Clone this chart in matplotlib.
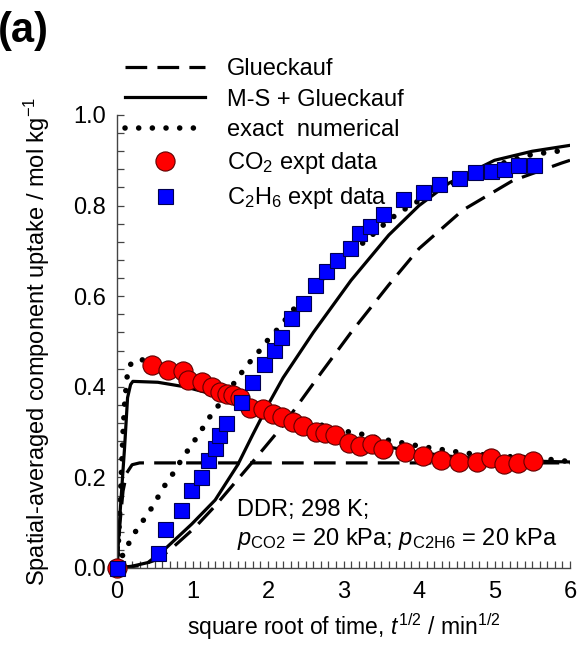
import matplotlib
matplotlib.use("Agg")
import matplotlib.pyplot as plt
from matplotlib.lines import Line2D
from matplotlib.ticker import MultipleLocator, FormatStrFormatter

plt.rcParams['font.family'] = ['Liberation Sans', 'DejaVu Sans']
plt.rcParams['mathtext.fontset'] = 'custom'
plt.rcParams['mathtext.rm'] = 'Liberation Sans'
plt.rcParams['mathtext.it'] = 'Liberation Sans:italic'
plt.rcParams['mathtext.bf'] = 'Liberation Sans:bold'

# ---- data ----
co2_x = [0, 0.46, 0.68, 0.87, 0.94, 1.13, 1.26, 1.36, 1.46, 1.54, 1.63, 1.76, 1.93, 2.07, 2.19,
         2.33, 2.46, 2.64, 2.75, 2.89, 3.07, 3.22, 3.38, 3.52, 3.81, 4.05, 4.29, 4.53, 4.77,
         4.95, 5.13, 5.31, 5.51]
co2_y = [0, 0.449, 0.438, 0.434, 0.416, 0.41, 0.40, 0.388, 0.385, 0.381, 0.376, 0.354, 0.35,
         0.341, 0.333, 0.323, 0.314, 0.301, 0.299, 0.294, 0.277, 0.27, 0.274, 0.263, 0.257,
         0.248, 0.239, 0.235, 0.235, 0.243, 0.23, 0.232, 0.237]

c2h6_x = [0, 0.54, 0.64, 0.85, 0.98, 1.11, 1.21, 1.30, 1.35, 1.44, 1.64, 1.79, 1.95, 2.08,
          2.17, 2.30, 2.46, 2.62, 2.77, 2.91, 3.09, 3.21, 3.35, 3.52, 3.79, 4.05, 4.26, 4.53,
          4.74, 4.95, 5.13, 5.31, 5.52]
c2h6_y = [0, 0.033, 0.087, 0.128, 0.172, 0.20, 0.238, 0.266, 0.294, 0.321, 0.367, 0.41,
          0.451, 0.482, 0.509, 0.551, 0.584, 0.624, 0.655, 0.679, 0.706, 0.739, 0.754, 0.781,
          0.814, 0.83, 0.847, 0.861, 0.874, 0.876, 0.88, 0.889, 0.889]

# Glueckauf model
gl_co2_x = [0, 0.04, 0.08, 0.13, 0.2, 0.3, 6.0]
gl_co2_y = [0, 0.10, 0.17, 0.21, 0.228, 0.232, 0.232]
gl_c2h6_x = [0, 0.3, 0.55, 0.73, 1.03, 1.3, 1.8, 2.2, 2.7, 3.1, 3.6, 4.0, 4.58, 5.24, 5.89, 6.0]
gl_c2h6_y = [0, 0.005, 0.02, 0.044, 0.089, 0.137, 0.235, 0.315, 0.43, 0.52, 0.625, 0.705,
             0.79, 0.855, 0.894, 0.9]

# M-S + Glueckauf model
ms_co2_x = [0, 0.04, 0.1, 0.14, 0.18, 0.21, 0.54, 0.9, 1.17, 1.34, 2.0, 2.5, 3.0, 3.5, 4.0,
            4.5, 5.0, 5.5, 6.0]
ms_co2_y = [0, 0.12, 0.265, 0.376, 0.405, 0.412, 0.41, 0.40, 0.388, 0.38, 0.345, 0.315,
            0.29, 0.27, 0.255, 0.245, 0.24, 0.236, 0.234]
ms_c2h6_x = [0, 0.2, 0.41, 0.61, 0.99, 1.3, 1.6, 1.8, 2.0, 2.2, 2.4, 2.6, 3.1, 3.6, 4.0,
             4.4, 5.0, 5.5, 6.0]
ms_c2h6_y = [0, 0.004, 0.012, 0.038, 0.097, 0.15, 0.228, 0.295, 0.36, 0.42, 0.47, 0.52,
             0.635, 0.735, 0.8, 0.85, 0.9, 0.92, 0.933]

# exact numerical
ex_co2_x = [0, 0.02, 0.04, 0.06, 0.08, 0.1, 0.13, 0.16, 0.28, 0.5, 1.0, 1.5, 2.0, 2.5, 3.0,
            3.15, 3.5, 4.04, 4.4, 4.58, 5.0, 5.66, 6.0]
ex_co2_y = [0, 0.06, 0.14, 0.22, 0.30, 0.36, 0.418, 0.447, 0.462, 0.452, 0.42, 0.38, 0.35,
            0.325, 0.302, 0.299, 0.285, 0.268, 0.259, 0.254, 0.248, 0.241, 0.235]
ex_c2h6_x = [0, 0.08, 0.18, 0.28, 0.41, 0.52, 0.62, 0.74, 0.85, 0.98, 1.1, 1.2, 1.34, 1.6,
             1.73, 1.87, 2.01, 2.17, 2.32, 2.49, 2.82, 3.02, 3.19, 3.38, 3.54, 3.72, 3.92,
             4.08, 4.28, 4.46, 5.0, 5.44, 5.64, 5.83, 6.0]
ex_c2h6_y = [0, 0.03, 0.062, 0.09, 0.119, 0.15, 0.179, 0.208, 0.238, 0.27, 0.299, 0.327,
             0.358, 0.42, 0.449, 0.476, 0.506, 0.535, 0.568, 0.597, 0.657, 0.683, 0.708,
             0.735, 0.759, 0.783, 0.803, 0.819, 0.834, 0.85, 0.888, 0.911, 0.916, 0.92, 0.929]

legend_labels = ['Glueckauf', 'M-S + Glueckauf', 'exact  numerical',
                 'CO$_2$ expt data', 'C$_2$H$_6$ expt data']

# ---- styles ----
dash_kw = dict(color='black', lw=2.3, linestyle=(0, (6.8, 3.2)))
solid_kw = dict(color='black', lw=2.3, linestyle='-')
dot_kw = dict(color='black', lw=4.0, linestyle=(0, (0.01, 2.45)), dash_capstyle='round')
circ_kw = dict(marker='o', ms=13.8, mfc='#ff0000', mec='#600000', mew=0.8, ls='none')
sq_kw = dict(marker='s', ms=10.8, mfc='#0000ff', mec='#000050', mew=0.8, ls='none')

fig = plt.figure(figsize=(5.77, 6.6), dpi=100)
ax = fig.add_axes([117/577, 1-568/660, 453/577, 453/660])

ax.plot(gl_co2_x, gl_co2_y, zorder=2, **dash_kw)
ax.plot(gl_c2h6_x, gl_c2h6_y, zorder=2, **dash_kw)
ax.plot(ms_co2_x, ms_co2_y, zorder=2, **solid_kw)
ax.plot(ms_c2h6_x, ms_c2h6_y, zorder=2, **solid_kw)
ax.plot(ex_co2_x, ex_co2_y, zorder=2, **dot_kw)
ax.plot(ex_c2h6_x, ex_c2h6_y, zorder=2, **dot_kw)
ax.plot(co2_x, co2_y, zorder=4, clip_on=False, **circ_kw)
ax.plot(c2h6_x, c2h6_y, zorder=5, clip_on=False, **sq_kw)

ax.set_xlim(0, 6)
ax.set_ylim(0, 1.0)
ax.xaxis.set_major_locator(MultipleLocator(1))
ax.xaxis.set_minor_locator(MultipleLocator(0.1))
ax.yaxis.set_major_locator(MultipleLocator(0.2))
ax.yaxis.set_minor_locator(MultipleLocator(0.04))
ax.yaxis.set_major_formatter(FormatStrFormatter('%.1f'))
ax.xaxis.set_major_formatter(FormatStrFormatter('%d'))

for s in ['top', 'right']:
    ax.spines[s].set_visible(False)
for s in ['left', 'bottom']:
    ax.spines[s].set_color('#444444')
    ax.spines[s].set_linewidth(1.0)

ax.tick_params(which='both', direction='in', length=5, width=0.9, color='#444444',
               labelsize=17, top=False, right=False)
ax.tick_params(axis='x', which='both', pad=9)
ax.tick_params(axis='y', which='both', pad=8)

ax.set_xlabel('square root of time, $t^{1/2}$ / min$^{1/2}$', fontsize=16.5, labelpad=6)
ax.set_ylabel('Spatial-averaged component uptake / mol kg$^{-1}$', fontsize=17, labelpad=15)

ax.text(1.59, 0.128, 'DDR; 298 K;', fontsize=17, va='center', ha='left', zorder=6)
ax.text(1.59, 0.064, '$p_\\mathrm{CO2}$ = 20 kPa; $p_\\mathrm{C2H6}$ = 20 kPa', fontsize=17,
        va='center', ha='left', zorder=6)

handles = [Line2D([], [], **dash_kw), Line2D([], [], **solid_kw), Line2D([], [], **dot_kw),
           Line2D([], [], **circ_kw), Line2D([], [], **sq_kw)]
leg = ax.legend(handles, legend_labels, loc='upper left', bbox_to_anchor=(0.018, 1.126),
                frameon=False, fontsize=17, handlelength=3.4, handletextpad=0.9,
                labelspacing=0.37, borderpad=0, borderaxespad=0, numpoints=1)
leg.set_zorder(7)

fig.text(-2/577, 1-31/660, '(a)', fontsize=30, fontweight='bold', ha='left', va='center')

fig.savefig('out.png', dpi=100)
